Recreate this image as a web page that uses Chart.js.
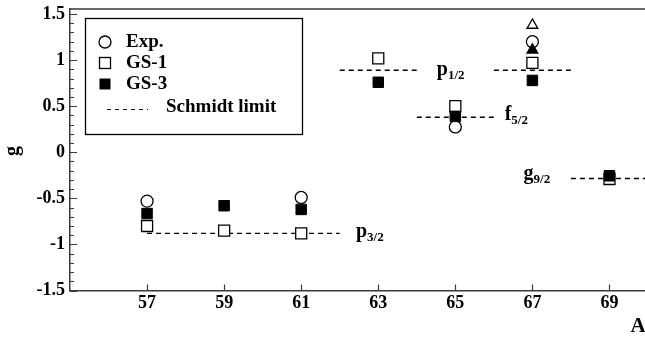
<!DOCTYPE html>
<html>
<head>
<meta charset="utf-8">
<title>g factors vs A</title>
<script src="https://cdn.jsdelivr.net/npm/chart.js@4.4.1/dist/chart.umd.min.js"></script>
<style>
    html, body { margin: 0; padding: 0; background: #fff; overflow: hidden; }
    #wrap { width: 650px; height: 341px; }
</style>
</head>
<body>
<div id="wrap"><canvas id="gChart" width="650" height="341"></canvas></div>
<script>
// ============================================
// DATA
// ============================================
const massNumbers  = [57, 59, 61, 63, 65, 67, 69];
const expValues    = [-0.53, null, -0.49, null, 0.275, 1.20, null];
const gs1Values    = [-0.80, -0.85, -0.88, 1.02, 0.50, 0.97, -0.29];
const gs3Values    = [-0.665, -0.58, -0.62, 0.76, 0.39, 0.78, -0.255];

// extra points at A = 67 (triangles, not in legend)
const triangleA       = [67];
const openTriangle    = [1.38];
const filledTriangle  = [1.11];

// Schmidt limit segments
const schmidtFrom   = [57, 62, 64, 66, 68];
const schmidtTo     = [62, 64, 66, 68, 70];
const schmidtValues = [-0.88, 0.89, 0.38, 0.89, -0.285];

const yTickValues = [-1.5, -1, -0.5, 0, 0.5, 1, 1.5];
const yTickLabels = ['-1.5', '-1', '-0.5', '0', '0.5', '1', '1.5'];

// ============================================
// STYLE
// ============================================
const FONT = "'Liberation Serif', 'Times New Roman', serif";
const AXIS_COLOR = '#3a3a3a';

const toPoints = (xs, ys) => xs
    .map((x, i) => ({ x: x, y: ys[i] }))
    .filter(p => p.y !== null);

const schmidtSets = schmidtFrom.map((from, i) => ({
    label: 'Schmidt limit',
    data: [{ x: from, y: schmidtValues[i] }, { x: schmidtTo[i], y: schmidtValues[i] }],
    showLine: true,
    borderColor: '#000',
    borderWidth: 1.4,
    borderDash: [5, 4],
    pointRadius: 0,
}));

// first dataset is painted last (on top)
const datasets = [
    {
        label: 'triangle open',
        data: toPoints(triangleA, openTriangle),
        pointStyle: 'triangle', pointRadius: 6.2,
        backgroundColor: '#fff', borderColor: '#000', borderWidth: 1.3,
    },
    {
        label: 'triangle filled',
        data: toPoints(triangleA, filledTriangle),
        pointStyle: 'triangle', pointRadius: 6.2,
        backgroundColor: '#000', borderColor: '#000', borderWidth: 1.3,
    },
    {
        label: 'GS-3',
        data: toPoints(massNumbers, gs3Values),
        pointStyle: 'rect', pointRadius: 7.4,
        backgroundColor: '#000', borderColor: '#000', borderWidth: 1,
    },
    {
        label: 'GS-1',
        data: toPoints(massNumbers, gs1Values),
        pointStyle: 'rect', pointRadius: 7.8,
        backgroundColor: '#fff', borderColor: '#000', borderWidth: 1.3,
    },
    {
        label: 'Exp.',
        data: toPoints(massNumbers, expValues),
        pointStyle: 'circle', pointRadius: 6,
        backgroundColor: '#fff', borderColor: '#000', borderWidth: 1.3,
    },
    ...schmidtSets,
];

// ============================================
// PLUGIN: frame, inward ticks, labels, legend
// ============================================
const decorPlugin = {
    id: 'decor',
    afterDraw(chart) {
        const ctx = chart.ctx;
        const area = chart.chartArea;
        const xs = chart.scales.x;
        const ys = chart.scales.y;

        ctx.save();

        // frame (top / right)
        ctx.strokeStyle = AXIS_COLOR;
        ctx.lineWidth = 1.5;
        ctx.beginPath();
        ctx.moveTo(area.left, area.top);
        ctx.lineTo(area.right, area.top);
        ctx.lineTo(area.right, area.bottom);
        ctx.stroke();

        // inward ticks
        ctx.lineWidth = 1.2;
        ctx.beginPath();
        for (let i = -15; i <= 15; i++) {
            const v = i / 10;
            const py = Math.round(ys.getPixelForValue(v)) + 0.5;
            const len = (i % 5 === 0) ? 7 : 4;
            ctx.moveTo(area.left, py);
            ctx.lineTo(area.left + len, py);
        }
        massNumbers.forEach(a => {
            const px = Math.round(xs.getPixelForValue(a)) + 0.5;
            ctx.moveTo(px, area.bottom);
            ctx.lineTo(px, area.bottom - 6);
        });
        ctx.stroke();

        // axis titles
        ctx.fillStyle = '#000';
        ctx.font = `bold 21px ${FONT}`;
        ctx.textAlign = 'center';
        ctx.textBaseline = 'middle';
        ctx.fillText('A', 638, 327);

        ctx.save();
        ctx.translate(13, 151);
        ctx.rotate(-Math.PI / 2);
        ctx.font = `bold 20px ${FONT}`;
        ctx.fillText('g', 0, 0);
        ctx.restore();

        // orbit labels next to the Schmidt lines
        const orbitLabels = [
            { main: 'p', sub: '1/2', x: 64.52, y: 0.838 },
            { main: 'f', sub: '5/2', x: 66.28, y: 0.355 },
            { main: 'g', sub: '9/2', x: 66.77, y: -0.293 },
            { main: 'p', sub: '3/2', x: 62.42, y: -0.923 },
        ];
        ctx.textAlign = 'left';
        ctx.textBaseline = 'alphabetic';
        orbitLabels.forEach(l => {
            const px = xs.getPixelForValue(l.x);
            const py = ys.getPixelForValue(l.y);
            ctx.font = `bold 20px ${FONT}`;
            ctx.fillText(l.main, px, py);
            const w = ctx.measureText(l.main).width;
            ctx.font = `bold 13px ${FONT}`;
            ctx.fillText(l.sub, px + w, py + 4);
        });

        // legend box
        ctx.strokeStyle = '#000';
        ctx.lineWidth = 1.3;
        ctx.strokeRect(85.5, 18.5, 217, 116);

        ctx.font = `bold 19px ${FONT}`;
        ctx.textBaseline = 'middle';

        // Exp.
        ctx.fillStyle = '#fff';
        ctx.beginPath();
        ctx.arc(105, 42, 6, 0, Math.PI * 2);
        ctx.fill();
        ctx.stroke();
        ctx.fillStyle = '#000';
        ctx.fillText('Exp.', 126, 42);

        // GS-1
        ctx.fillStyle = '#fff';
        ctx.fillRect(99.5, 57.5, 11, 11);
        ctx.strokeRect(99.5, 57.5, 11, 11);
        ctx.fillStyle = '#000';
        ctx.fillText('GS-1', 126, 63);

        // GS-3
        ctx.fillRect(99.5, 78.5, 11, 11);
        ctx.fillText('GS-3', 126, 84);

        // Schmidt limit
        ctx.lineWidth = 1;
        ctx.setLineDash([4, 4]);
        ctx.beginPath();
        ctx.moveTo(107, 109.5);
        ctx.lineTo(148, 109.5);
        ctx.stroke();
        ctx.setLineDash([]);
        ctx.fillText('Schmidt limit', 166, 107);

        ctx.restore();
    },
};

// ============================================
// CHART
// ============================================
document.addEventListener('DOMContentLoaded', () => {
    const canvas = document.getElementById('gChart');

    new Chart(canvas, {
        type: 'scatter',
        data: { datasets: datasets },
        options: {
            responsive: false,
            animation: false,
            layout: {
                autoPadding: false,
                padding: { top: 9, right: 2, left: 0, bottom: 0 },
            },
            plugins: {
                legend: { display: false },
                tooltip: { enabled: false },
            },
            scales: {
                x: {
                    type: 'linear',
                    min: 55,
                    max: 70,
                    afterBuildTicks: s => { s.ticks = massNumbers.map(v => ({ value: v })); },
                    afterFit: s => {
                        s.height = 50.5;
                        s.paddingLeft = 0;
                        s.paddingRight = 0;
                    },
                    grid: { display: false, drawTicks: false },
                    border: { display: true, color: AXIS_COLOR, width: 1.5 },
                    ticks: {
                        padding: 2,
                        color: '#000',
                        font: { family: FONT, size: 18, weight: 'bold' },
                    },
                },
                y: {
                    type: 'linear',
                    min: -1.5,
                    max: 1.555,
                    afterBuildTicks: s => { s.ticks = yTickValues.map(v => ({ value: v })); },
                    afterFit: s => {
                        s.width = 70;
                        s.paddingTop = 0;
                        s.paddingBottom = 0;
                    },
                    grid: { display: false, drawTicks: false },
                    border: { display: true, color: AXIS_COLOR, width: 1.5 },
                    ticks: {
                        padding: 5,
                        color: '#000',
                        font: { family: FONT, size: 18, weight: 'bold' },
                        callback: v => yTickLabels[yTickValues.indexOf(v)],
                    },
                },
            },
        },
        plugins: [decorPlugin],
    });
});
</script>
</body>
</html>
